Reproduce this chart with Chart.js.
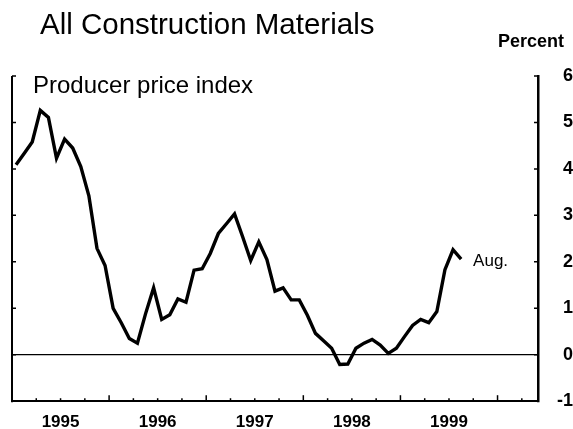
<!DOCTYPE html>
<html>
<head>
<meta charset="utf-8">
<script src="https://cdn.jsdelivr.net/npm/chart.js@4.4.1/dist/chart.umd.min.js"></script>
<style>
    body { margin: 0; background: #fff; }
    #wrap { width: 573px; height: 429px; }
</style>
</head>
<body>
<div id="wrap"><canvas id="chart" width="573" height="429"></canvas></div>
<script>
// Producer price index, all construction materials, percent change (monthly, Jan 1995 - Aug 1999)
const startYear = 1995;
const yearLabels = ['1995', '1996', '1997', '1998', '1999'];
const yTicks = [-1, 0, 1, 2, 3, 4, 5, 6];
const ppi = [
    4.09, 4.33, 4.58, 5.26, 5.11, 4.23, 4.64, 4.45, 4.05, 3.42, 2.29, 1.92,   // 1995
    1.00, 0.69, 0.35, 0.25, 0.88, 1.44, 0.76, 0.86, 1.20, 1.13, 1.82, 1.85,   // 1996
    2.18, 2.61, 2.82, 3.03, 2.54, 2.03, 2.43, 2.05, 1.37, 1.44, 1.18, 1.18,   // 1997
    0.85, 0.46, 0.30, 0.14, -0.21, -0.20, 0.14, 0.25, 0.33, 0.21, 0.03, 0.14, // 1998
    0.39, 0.63, 0.76, 0.69, 0.93, 1.83, 2.26, 2.06                            // 1999 (to Aug.)
];
const monthsShown = 65; // axis runs Jan 1995 through May 2000

// month index -> x value at mid-month
const points = ppi.map((v, i) => ({ x: i + 0.5, y: v }));

const FONT = '"Liberation Sans", Arial, Helvetica, sans-serif';

// inward tick marks, left axis line, year labels and text
const decorPlugin = {
    id: 'decor',
    afterDraw(chart) {
        const ctx = chart.ctx;
        const area = chart.chartArea;
        const xs = chart.scales.x;
        const ys = chart.scales.y;
        ctx.save();
        ctx.strokeStyle = '#000';

        // left axis line
        ctx.lineWidth = 2;
        ctx.beginPath();
        ctx.moveTo(area.left, area.top);
        ctx.lineTo(area.left, area.bottom + 1);
        ctx.stroke();

        // y ticks on both sides, pointing in
        ctx.lineWidth = 1.5;
        yTicks.forEach(v => {
            const py = ys.getPixelForValue(v);
            ctx.beginPath();
            ctx.moveTo(area.left, py);
            ctx.lineTo(area.left + 4, py);
            ctx.moveTo(area.right, py);
            ctx.lineTo(area.right - 4, py);
            ctx.stroke();
        });

        // quarter and year ticks on the bottom, pointing up
        for (let m = 3; m < monthsShown; m += 3) {
            const px = xs.getPixelForValue(m);
            const len = m % 12 === 0 ? 6 : 3;
            ctx.beginPath();
            ctx.moveTo(px, area.bottom);
            ctx.lineTo(px, area.bottom - len);
            ctx.stroke();
        }

        ctx.fillStyle = '#000';
        ctx.textBaseline = 'alphabetic';

        // year labels centred on each year
        ctx.textAlign = 'center';
        ctx.font = 'bold 17px ' + FONT;
        yearLabels.forEach((label, k) => {
            ctx.fillText(label, xs.getPixelForValue(k * 12 + 6), 427);
        });

        ctx.textAlign = 'left';
        ctx.font = '29.5px ' + FONT;
        ctx.fillText('All Construction Materials', 40, 34);

        ctx.font = 'bold 18px ' + FONT;
        ctx.textAlign = 'right';
        ctx.fillText('Percent', 564, 47);

        ctx.textAlign = 'left';
        ctx.font = '24px ' + FONT;
        ctx.fillText('Producer price index', 33, 93);

        const last = points[points.length - 1];
        const lx = xs.getPixelForValue(last.x);
        const ly = ys.getPixelForValue(last.y);
        ctx.font = '17px ' + FONT;
        ctx.fillText('Aug.', lx + 12, ly + 7);
        ctx.restore();
    }
};

const chart = new Chart(document.getElementById('chart'), {
    type: 'line',
    data: {
        datasets: [{
            data: points,
            borderColor: '#000',
            borderWidth: 3.4,
            pointRadius: 0,
            tension: 0,
            fill: false
        }]
    },
    options: {
        responsive: false,
        animation: false,
        devicePixelRatio: 1,
        layout: { padding: { left: 12, top: 76, right: 0, bottom: 0 } },
        plugins: {
            legend: { display: false },
            tooltip: { enabled: false },
            title: { display: false }
        },
        scales: {
            x: {
                type: 'linear',
                min: 0,
                max: monthsShown,
                afterFit: scale => { scale.height = 22; },
                ticks: { display: false },
                grid: { display: false, drawTicks: false },
                border: { display: true, color: '#000', width: 2 }
            },
            y: {
                position: 'right',
                min: -1,
                max: 6,
                afterBuildTicks: scale => {
                    scale.ticks = yTicks.map(v => ({ value: v }));
                },
                afterFit: scale => { scale.width = 35; },
                ticks: {
                    crossAlign: 'far',
                    padding: 17,
                    color: '#000',
                    font: { family: FONT, size: 18, weight: 'bold' }
                },
                grid: {
                    drawTicks: false,
                    color: c => (c.tick && c.tick.value === 0 ? '#000' : 'rgba(0,0,0,0)'),
                    lineWidth: 1.2
                },
                border: { display: true, color: '#000', width: 2.5 }
            }
        }
    },
    plugins: [decorPlugin]
});
</script>
</body>
</html>
